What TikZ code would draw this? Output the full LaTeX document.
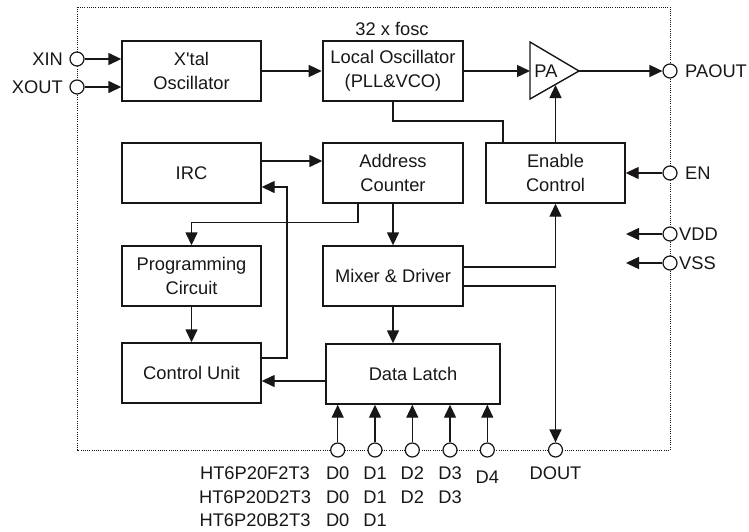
\documentclass[tikz,border=0pt]{standalone}
\usepackage{fontspec}
\setmainfont{Liberation Sans}
\usetikzlibrary{arrows.meta}
\definecolor{ink}{RGB}{25,22,23}
\newcommand\dfont{\fontsize{18.3}{23.5}\selectfont}
\begin{document}
\begin{tikzpicture}[x=1pt,y=-1pt,
  blk/.style={draw=ink, line width=1.4pt, minimum width=139pt, minimum height=60pt, inner sep=0pt, align=center, font=\dfont, text=ink},
  pin/.style={circle, draw=ink, fill=white, line width=1.2pt, minimum size=14pt, inner sep=0pt},
  wire/.style={draw=ink, line width=1.4pt},
  arr/.style={draw=ink, line width=1.4pt, -{Triangle[length=13pt,width=12pt]}},
  lbl/.style={font=\dfont, text=ink, inner sep=0pt},
  frame/.style={draw=ink, line width=1pt, dash pattern=on 1pt off 1.2pt}]
\useasboundingbox (0,0) rectangle (749,531);
% frame
\draw[frame] (77,7) rectangle (670,450);
% blocks
\node[blk] (xtal) at (191.5,71) {X\textquotesingle tal\\Oscillator};
\node[blk, line width=2.6pt, minimum width=140pt] (lo) at (393,71) {Local Oscillator\\(PLL\&VCO)};
\node[blk] (irc) at (191.5,173) {IRC};
\node[blk, minimum width=140pt] (ac) at (393,173) {Address\\Counter};
\node[blk] (ec) at (555.5,173) {Enable\\Control};
\node[blk] (pc) at (191.5,276) {Programming\\Circuit};
\node[blk, minimum width=140pt] (md) at (393,276) {Mixer \& Driver};
\node[blk] (cu) at (191.5,373) {Control Unit};
\node[blk, minimum width=174pt] (dl) at (413,374) {Data Latch};
% PA triangle
\draw[wire] (530,42) -- (579,71) -- (530,99) -- cycle;
\node[lbl] (patxt) at (546,71) {PA};
\coordinate (paL) at (530,71);
\coordinate (paR) at (579,71);
\coordinate (paB) at (555.5,85);
\node[lbl] (fosc) at (392,29) {32 x fosc};
% pins
\node[pin] (xin) at (77,59) {};
\node[pin] (xout) at (77,87) {};
\node[pin] (paout) at (670,71) {};
\node[pin] (en) at (670,173) {};
\node[pin] (vdd) at (670,234) {};
\node[pin] (vss) at (670,263) {};
\node[pin] (dout) at (555.5,450) {};
\foreach \i/\x in {0/337.7,1/375,2/412.3,3/450,4/487.3}{
  \node[pin] (d\i) at (\x,450) {};
}
% pin labels
\node[lbl, anchor=east] (lxin) at (63,59) {XIN};
\node[lbl, anchor=east] (lxout) at (63,87) {XOUT};
\node[lbl, anchor=west] (lpaout) at (685,71) {PAOUT};
\node[lbl, anchor=west] (len) at (685,173) {EN};
\node[lbl, anchor=west] (lvdd) at (679,234) {VDD};
\node[lbl, anchor=west] (lvss) at (679,263) {VSS};
\node[lbl] (ldout) at (555.5,473) {DOUT};
\node[lbl] (r1) at (255,473) {HT6P20F2T3};
\node[lbl] (r2) at (255,497) {HT6P20D2T3};
\node[lbl] (r3) at (255,520) {HT6P20B2T3};
\foreach \i/\x in {0/337.7,1/375,2/412.3,3/450}{
  \node[lbl] (la\i) at (\x,473) {D\i};
  \node[lbl] (lb\i) at (\x,497) {D\i};
}
\node[lbl] (la4) at (487.3,477) {D4};
\node[lbl] (lc0) at (337.7,520) {D0};
\node[lbl] (lc1) at (375,520) {D1};
% connectors
\draw[arr] (xin) -- (xin -| xtal.west);
\draw[arr] (xout) -- (xout -| xtal.west);
\draw[arr] (xtal) -- (lo);
\draw[arr] (lo) -- (paL);
\draw[arr] (paR) -- (paout);
\coordinate (fb) at (503,121);
\draw[wire] (lo.south) |- (fb) -- (fb |- ec.north);
\draw[arr] (ec.north) -- (paB);
\draw[arr] ([yshift=12pt]irc.east) -- ([yshift=12pt]ac.west);
\coordinate (v1) at (287,187);
\draw[arr] ([yshift=15pt]cu.east) -| (v1) -- (v1 -| irc.east);
\draw[arr] ([xshift=-35pt]ac.south) -- ++(0,19) -| (pc.north);
\draw[arr] (ac) -- (md);
\draw[arr] (pc) -- (cu);
\draw[arr] (md.south) -- (md.south |- dl.north);
\draw[arr] ([yshift=-7pt]dl.west) -- ([yshift=-7pt]dl.west -| cu.east);
\draw[arr] ([yshift=9pt]md.east) -| (ec.south);
\draw[arr] ([yshift=-10pt]md.east) -| (dout.north);
\draw[arr] (en) -- (ec.east);
\coordinate (vddt) at (626,234);
\coordinate (vsst) at (626,263);
\draw[arr] (vdd) -- (vddt);
\draw[arr] (vss) -- (vsst);
\foreach \i in {0,...,4}{
  \draw[arr] (d\i) -- (d\i |- dl.south);
}
\end{tikzpicture}
\end{document}
